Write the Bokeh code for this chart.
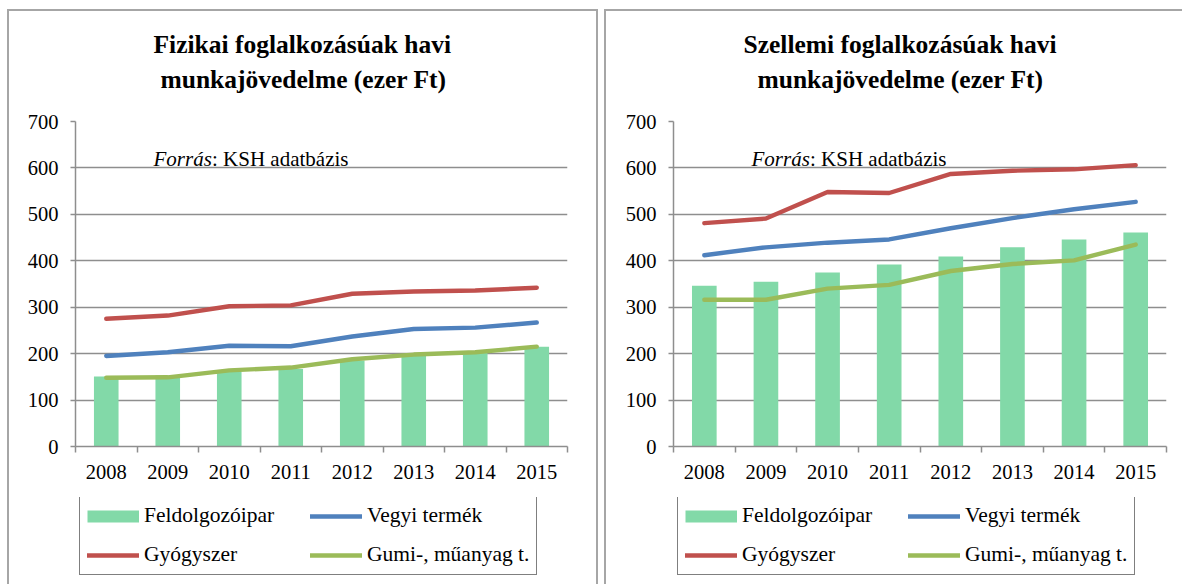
from bokeh.plotting import figure
from bokeh.models import Range1d, FixedTicker, Label, Legend, LegendItem, Title
from bokeh.layouts import row, column
from bokeh.embed import file_html
from bokeh.resources import INLINE

years = ["2008", "2009", "2010", "2011", "2012", "2013", "2014", "2015"]
series_names = ["Feldolgozóipar", "Vegyi termék", "Gyógyszer", "Gumi-, műanyag t."]

# Fizikai foglalkozásúak (left)
fiz_feldolgozo = [151, 153, 161, 167, 185, 196, 203, 215]
fiz_vegyi = [195, 203, 217, 216, 237, 253, 256, 267]
fiz_gyogyszer = [275, 282, 302, 304, 329, 334, 336, 342]
fiz_gumi = [148, 149, 164, 170, 188, 198, 203, 215]

# Szellemi foglalkozásúak (right)
szel_feldolgozo = [346, 355, 375, 392, 409, 429, 446, 461]
szel_vegyi = [412, 429, 439, 446, 470, 492, 511, 527]
szel_gyogyszer = [481, 491, 548, 546, 587, 594, 597, 606]
szel_gumi = [316, 316, 340, 348, 378, 393, 401, 435]

titles = [["Fizikai foglalkozásúak havi", "munkajövedelme (ezer Ft)"],
          ["Szellemi foglalkozásúak havi", "munkajövedelme (ezer Ft)"]]

BAR = "#82D9A8"
BLUE = "#4F81BD"
RED = "#C0504D"
GREEN = "#9BBB59"
GRID = "#8E8E8E"
FONT = "Liberation Serif"
EDGE = "#a6a6a6"
LW = 4.4


def panel(title_lines, title_offsets, feld, vegyi, gyogy, gumi, width, left, right, right_edge):
    side = f", inset -2px 0 0 {EDGE}" if right_edge else ""
    p = figure(width=width, height=488, output_backend="svg", toolbar_location=None,
               x_range=Range1d(0, len(years)), y_range=Range1d(0, 700),
               min_border_left=left, min_border_right=right,
               min_border_top=112, min_border_bottom=51,
               border_fill_color=None, background_fill_color="white",
               outline_line_color=None,
               styles={"box-shadow": f"inset 2px 2px 0 {EDGE}" + side})
    xs = [i + 0.5 for i in range(len(years))]

    p.vbar(x=xs, top=feld, width=0.4, fill_color=BAR, line_color=None)
    p.line(xs, vegyi, line_color=BLUE, line_width=LW, line_cap="round", line_join="round")
    p.line(xs, gyogy, line_color=RED, line_width=LW, line_cap="round", line_join="round")
    p.line(xs, gumi, line_color=GREEN, line_width=LW, line_cap="round", line_join="round")

    # axes
    p.xaxis.ticker = FixedTicker(ticks=xs, minor_ticks=list(range(len(years) + 1)))
    p.xaxis.major_label_overrides = {x: y for x, y in zip(xs, years)}
    p.xaxis.major_tick_out = 0
    p.xaxis.major_tick_in = 0
    p.xaxis.minor_tick_out = 6
    p.xaxis.minor_tick_in = 0
    p.xaxis.minor_tick_line_color = GRID
    p.xaxis.minor_tick_line_width = 1.5
    p.xaxis.axis_line_color = GRID
    p.xaxis.axis_line_width = 1.5
    p.xaxis.major_label_standoff = 12

    p.yaxis.ticker = FixedTicker(ticks=list(range(0, 701, 100)))
    p.yaxis.major_tick_out = 5
    p.yaxis.major_tick_in = 0
    p.yaxis.minor_tick_line_color = None
    p.yaxis.major_tick_line_color = GRID
    p.yaxis.major_tick_line_width = 1.5
    p.yaxis.axis_line_color = GRID
    p.yaxis.axis_line_width = 1.5
    p.yaxis.major_label_standoff = 12

    for ax in (p.xaxis, p.yaxis):
        ax.major_label_text_font = FONT
        ax.major_label_text_font_size = "20.5px"
        ax.major_label_text_color = "black"

    p.xgrid.grid_line_color = None
    p.ygrid.grid_line_color = GRID
    p.ygrid.grid_line_width = 1.5
    p.ygrid.ticker = FixedTicker(ticks=list(range(0, 701, 100)))

    # spacer between frame and title, then the two title lines
    p.add_layout(Title(text=" ", text_font_size="1px", standoff=21), "above")
    for txt, off, so in [(title_lines[1], title_offsets[1], 8), (title_lines[0], title_offsets[0], 0)]:
        p.add_layout(Title(text=txt, align="left", offset=off, standoff=so,
                           text_font=FONT, text_font_style="bold",
                           text_font_size="25.5px", text_color="black"), "above")

    # source note
    p.add_layout(Label(x=78, y=288, x_units="screen", y_units="screen", text="Forrás",
                       text_baseline="alphabetic", text_font=FONT, text_font_style="italic",
                       text_font_size="21px", text_color="black"))
    p.add_layout(Label(x=136.5, y=288, x_units="screen", y_units="screen", text=": KSH adatbázis",
                       text_baseline="alphabetic", text_font=FONT,
                       text_font_size="21px", text_color="black"))

    # legend lives in its own borderless figure under the chart (hidden proxies)
    q = figure(width=width, height=87, output_backend="svg", toolbar_location=None,
               x_range=Range1d(100, 101), y_range=Range1d(0, 1),
               x_axis_type=None, y_axis_type=None, min_border=0,
               border_fill_color=None, background_fill_color=None,
               outline_line_color=None,
               styles={"box-shadow": f"inset 2px 0 0 {EDGE}" + side})
    q.xgrid.visible = False
    q.ygrid.visible = False
    sw = q.line(xs, feld, line_color=BAR, line_width=12, line_cap="butt", visible=False)
    sv = q.line(xs, vegyi, line_color=BLUE, line_width=LW, line_cap="round", visible=False)
    sr = q.line(xs, gyogy, line_color=RED, line_width=LW, line_cap="round", visible=False)
    sg = q.line(xs, gumi, line_color=GREEN, line_width=LW, line_cap="round", visible=False)
    legend = Legend(items=[LegendItem(label=series_names[0], renderers=[sw]),
                           LegendItem(label=series_names[1], renderers=[sv]),
                           LegendItem(label=series_names[2], renderers=[sr]),
                           LegendItem(label=series_names[3], renderers=[sg])],
                    location=(4, 9), orientation="horizontal", ncols=2,
                    glyph_width=52, glyph_height=14, label_standoff=5,
                    label_width=152, label_height=24, spacing=14, padding=7, margin=0,
                    label_text_font=FONT, label_text_font_size="21.5px",
                    label_text_color="black",
                    inactive_fill_alpha=0,
                    border_line_color="black", border_line_width=1,
                    background_fill_color="white", background_fill_alpha=1)
    q.add_layout(legend, "center")
    return column(p, q, spacing=0)


c1 = panel(titles[0], [78, 85], fiz_feldolgozo, fiz_vegyi, fiz_gyogyszer, fiz_gumi,
           591, 68, 31, True)
c2 = panel(titles[1], [70, 84], szel_feldolgozo, szel_vegyi, szel_gyogyszer, szel_gumi,
           578, 69, 16, False)

layout = row(c1, c2, spacing=6, margin=(9, 0, 0, 7))
open("out.html", "w").write(file_html(layout, INLINE))
